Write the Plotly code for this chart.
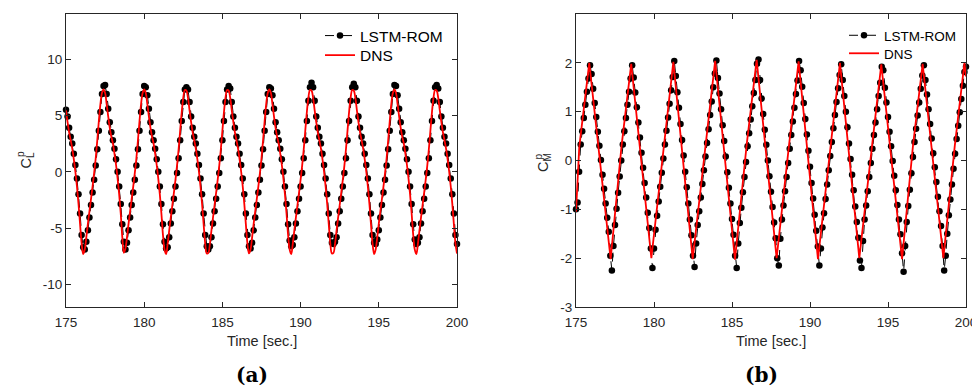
import plotly.graph_objects as go

# ---------------- data ----------------
t_start, t_step, n_pts = 175.0, 0.1, 251
time = [round(t_start + t_step * i, 1) for i in range(n_pts)]

# Panel (a): lift coefficient C_L^p, sampled every 0.1 s
cl_dns = [
    5.45, 4.4, 3.5, 2.8, 2.05, 1.1, 0.0, -1.3, -2.85, -4.65,
    -6.35, -7.3, -6.9, -5.8, -4.6, -3.5, -2.4, -1.3, -0.1, 1.2,
    2.8, 4.5, 6.0, 7.0, 7.3, 7.0, 6.0, 4.9, 3.9, 3.1,
    2.5, 1.6, 0.6, -0.6, -2.0, -3.7, -5.8, -7.2, -6.8, -5.8,
    -4.6, -3.5, -2.4, -1.3, -0.1, 1.2, 2.8, 4.5, 6.0, 7.0,
    7.3, 7.0, 6.0, 4.9, 3.9, 3.1, 2.5, 1.6, 0.6, -0.6,
    -2.0, -3.7, -5.6, -6.9, -7.3, -6.4, -5.2, -4.05, -2.95, -1.85,
    -0.7, 0.55, 2.0, 3.65, 5.3, 6.6, 7.25, 7.2, 6.55, 5.45,
    4.4, 3.5, 2.8, 2.05, 1.1, 0.0, -1.3, -2.85, -4.65, -6.35,
    -7.25, -7.2, -6.4, -5.2, -4.05, -2.95, -1.85, -0.7, 0.55, 2.0,
    3.65, 5.3, 6.6, 7.25, 7.2, 6.55, 5.45, 4.4, 3.5, 2.8,
    2.05, 1.1, 0.0, -1.3, -2.85, -4.65, -6.35, -7.25, -6.9, -5.8,
    -4.6, -3.5, -2.4, -1.3, -0.1, 1.2, 2.8, 4.5, 6.0, 7.0,
    7.3, 7.0, 6.0, 4.9, 3.9, 3.1, 2.5, 1.6, 0.6, -0.6,
    -2.0, -3.7, -5.6, -6.9, -7.3, -6.4, -5.2, -4.05, -2.95, -1.85,
    -0.7, 0.55, 2.0, 3.65, 5.3, 6.6, 7.25, 7.2, 6.55, 5.45,
    4.4, 3.5, 2.8, 2.05, 1.1, 0.0, -1.3, -2.85, -4.65, -6.35,
    -7.25, -7.2, -6.4, -5.2, -4.05, -2.95, -1.85, -0.7, 0.55, 2.0,
    3.65, 5.3, 6.6, 7.25, 7.2, 6.55, 5.45, 4.4, 3.5, 2.8,
    2.05, 1.1, 0.0, -1.3, -2.85, -4.65, -6.35, -7.3, -6.9, -5.8,
    -4.6, -3.5, -2.4, -1.3, -0.1, 1.2, 2.8, 4.5, 6.0, 7.0,
    7.3, 7.0, 6.0, 4.9, 3.9, 3.1, 2.5, 1.6, 0.6, -0.6,
    -2.0, -3.7, -5.6, -6.9, -7.3, -6.4, -5.2, -4.05, -2.95, -1.85,
    -0.7, 0.55, 2.0, 3.65, 5.3, 6.6, 7.25, 7.2, 6.55, 5.45,
    4.4, 3.5, 2.8, 2.05, 1.1, 0.0, -1.3, -2.85, -4.65, -6.35,
    -7.25,
]

cl_lstm = [
    5.5, 4.9, 3.9, 3.1, 2.5, 1.6, 0.6, -0.6, -2.0, -3.7,
    -5.6, -6.7, -6.9, -6.2, -5.2, -4.05, -2.95, -1.85, -0.7, 0.55,
    2.0, 3.65, 5.3, 6.9, 7.6, 7.7, 6.9, 5.6, 4.4, 3.5,
    2.8, 2.05, 1.1, 0.0, -1.3, -2.85, -4.65, -6.2, -6.9, -6.3,
    -5.2, -4.05, -2.95, -1.85, -0.7, 0.55, 2.0, 3.65, 5.3, 6.9,
    7.6, 7.5, 6.8, 5.6, 4.4, 3.5, 2.8, 2.05, 1.1, 0.0,
    -1.3, -2.85, -4.65, -6.2, -6.8, -6.7, -5.8, -4.6, -3.5, -2.4,
    -1.3, -0.1, 1.2, 2.8, 4.5, 6.2, 7.3, 7.5, 7.3, 6.2,
    4.9, 3.9, 3.1, 2.5, 1.6, 0.6, -0.6, -2.0, -3.7, -5.6,
    -6.6, -6.9, -6.6, -5.8, -4.6, -3.5, -2.4, -1.3, -0.1, 1.2,
    2.8, 4.5, 6.2, 7.3, 7.6, 7.4, 6.2, 4.9, 3.9, 3.1,
    2.5, 1.6, 0.6, -0.6, -2.0, -3.7, -5.6, -6.6, -6.8, -6.3,
    -5.2, -4.05, -2.95, -1.85, -0.7, 0.55, 2.0, 3.65, 5.3, 6.9,
    7.5, 7.4, 6.8, 5.6, 4.4, 3.5, 2.8, 2.05, 1.1, 0.0,
    -1.3, -2.85, -4.65, -6.1, -6.6, -6.5, -5.8, -4.6, -3.5, -2.4,
    -1.3, -0.1, 1.2, 2.8, 4.5, 6.3, 7.5, 7.9, 7.5, 6.3,
    4.9, 3.9, 3.1, 2.5, 1.6, 0.6, -0.6, -2.0, -3.7, -5.6,
    -6.3, -6.4, -6.2, -5.8, -4.6, -3.5, -2.4, -1.3, -0.1, 1.2,
    2.8, 4.5, 6.3, 7.5, 7.8, 7.5, 6.3, 4.9, 3.9, 3.1,
    2.5, 1.6, 0.6, -0.6, -2.0, -3.7, -5.6, -6.3, -6.4, -6.0,
    -5.2, -4.05, -2.95, -1.85, -0.7, 0.55, 2.0, 3.65, 5.3, 6.9,
    7.7, 7.6, 6.8, 5.6, 4.4, 3.5, 2.8, 2.05, 1.1, 0.0,
    -1.3, -2.85, -4.65, -6.0, -6.4, -6.3, -5.8, -4.6, -3.5, -2.4,
    -1.3, -0.1, 1.2, 2.8, 4.5, 6.3, 7.5, 7.7, 7.4, 6.2,
    4.9, 3.9, 3.1, 2.5, 1.6, 0.6, -0.6, -2.0, -3.7, -5.6,
    -6.4,
]

# Panel (b): moment coefficient C_M^p
# DNS read as break points (time, value) of the red curve
cm_dns_time = [175.0, 175.21, 175.85, 177.22, 177.92, 178.54, 179.83, 180.62, 181.24,
               182.48, 183.31, 183.92, 185.19, 185.94, 186.58, 187.86, 188.65, 189.27,
               190.51, 191.3, 191.92, 193.16, 193.95, 194.57, 195.9, 196.6, 197.22,
               198.55, 199.28, 199.9, 200.0]
cm_dns = [-1.05, 0.28, 2.0, -2.02, 0.3, 1.98, -2.0, 0.3, 2.02,
          -2.02, 0.3, 2.04, -2.03, 0.32, 2.06, -2.0, 0.3, 2.03,
          -2.02, 0.3, 2.0, -2.0, 0.3, 1.97, -2.02, 0.3, 1.98,
          -2.0, 0.3, 2.0, 1.72]

cm_lstm = [
    -1.0, -0.86, -0.23, 0.33, 0.60, 0.87, 1.14, 1.41, 1.68, 1.95,
    1.77, 1.47, 1.18, 0.89, 0.59, 0.30, 0.01, -0.29, -0.58, -0.88,
    -1.17, -1.46, -1.95, -2.25, -1.75, -1.32, -0.99, -0.66, -0.33, 0.00,
    0.33, 0.60, 0.87, 1.14, 1.41, 1.68, 1.95, 1.70, 1.39, 1.09,
    0.78, 0.47, 0.16, -0.15, -0.46, -0.76, -1.07, -1.38, -1.8, -2.2,
    -1.8, -1.42, -1.13, -0.84, -0.54, -0.25, 0.04, 0.33, 0.61, 0.88,
    1.16, 1.44, 1.71, 2.04, 1.73, 1.40, 1.08, 0.75, 0.42, 0.10,
    -0.23, -0.55, -0.88, -1.21, -1.53, -1.95, -2.18, -1.7, -1.32, -1.04,
    -0.76, -0.48, -0.20, 0.08, 0.36, 0.64, 0.93, 1.21, 1.50, 1.78,
    2.05, 1.69, 1.37, 1.05, 0.72, 0.40, 0.08, -0.24, -0.56, -0.88,
    -1.20, -1.52, -1.95, -2.2, -1.7, -1.28, -0.97, -0.65, -0.34, -0.03,
    0.29, 0.56, 0.84, 1.11, 1.38, 1.65, 1.98, 2.07, 1.65, 1.27,
    0.95, 0.63, 0.32, 0.00, -0.32, -0.64, -0.95, -1.27, -1.59, -2.0,
    -2.15, -1.6, -1.21, -0.92, -0.63, -0.34, -0.05, 0.24, 0.52, 0.80,
    1.08, 1.36, 1.64, 2.04, 1.85, 1.51, 1.18, 0.85, 0.53, 0.20,
    -0.13, -0.46, -0.78, -1.11, -1.44, -1.76, -2.15, -1.8, -1.37, -1.08,
    -0.79, -0.49, -0.20, 0.09, 0.38, 0.66, 0.93, 1.20, 1.48, 1.75,
    1.97, 1.65, 1.32, 1.00, 0.68, 0.35, 0.03, -0.29, -0.61, -0.94,
    -1.26, -1.58, -2.05, -2.2, -1.65, -1.21, -0.92, -0.63, -0.34, -0.05,
    0.24, 0.52, 0.78, 1.05, 1.32, 1.59, 1.92, 1.85, 1.49, 1.19,
    0.89, 0.59, 0.29, -0.01, -0.31, -0.61, -0.91, -1.21, -1.51, -1.9,
    -2.28, -1.75, -1.26, -0.93, -0.60, -0.26, 0.07, 0.38, 0.65, 0.92,
    1.19, 1.47, 1.74, 1.95, 1.65, 1.35, 1.05, 0.75, 0.45, 0.15,
    -0.14, -0.44, -0.74, -1.04, -1.34, -1.75, -2.25, -1.95, -1.5, -1.12,
    -0.80, -0.49, -0.17, 0.14, 0.44, 0.71, 0.99, 1.26, 1.53, 1.81,
    1.92,
]

x_ticks = [175, 180, 185, 190, 195, 200]
cl_ticks = [-10, -5, 0, 5, 10]
cm_ticks = [-3, -2, -1, 0, 1, 2, 3]

# ---------------- figure ----------------
# The page body has an 8 px margin, so the figure is drawn 8 px in from the
# window corner; size it so that it fills the 980x391 window exactly.
OFF = 8
W, H = 980 - OFF, 391 - OFF
AX = "#262626"
FONT = "Liberation Sans, Arial, Helvetica, sans-serif"

fig = go.Figure()

lstm_line = dict(color="black", width=1, dash="dash")
lstm_marker = dict(color="black", size=6.5)
dns_line = dict(color="#ff0000", width=1.8)

fig.add_trace(go.Scatter(x=time, y=cl_lstm, xaxis="x", yaxis="y", legend="legend",
                         mode="lines+markers", name="LSTM-ROM", line=lstm_line,
                         marker=lstm_marker, cliponaxis=False))
fig.add_trace(go.Scatter(x=time, y=cl_dns, xaxis="x", yaxis="y", legend="legend2",
                         mode="lines", name="DNS", line=dns_line, line_shape="spline"))
fig.add_trace(go.Scatter(x=time, y=cm_lstm, xaxis="x2", yaxis="y2", legend="legend3",
                         mode="lines+markers", name="LSTM-ROM", line=lstm_line,
                         marker=lstm_marker, cliponaxis=False))
fig.add_trace(go.Scatter(x=cm_dns_time, y=cm_dns, xaxis="x2", yaxis="y2", legend="legend4",
                         mode="lines", name="DNS", line=dns_line))


def px(v):  # window pixel -> paper fraction
    return (v - OFF) / W


def py(v):
    return 1 - (v - OFF) / H


axis_common = dict(showline=True, linecolor=AX, linewidth=1, mirror="allticks",
                   ticks="inside", ticklen=5, tickcolor=AX, showgrid=False, zeroline=False,
                   automargin=False, tickfont=dict(family=FONT, size=13.5, color=AX))


def tick_text(vals):
    return [str(v) for v in vals]


def leg(x, y, size):
    return dict(x=px(x), y=py(y), xanchor="left", yanchor="top",
                bgcolor="rgba(0,0,0,0)", font=dict(family=FONT, size=size, color="black"),
                tracegroupgap=0, itemwidth=30)


y_dom = [py(307), py(14)]
fig.update_layout(
    width=W, height=H,
    margin=dict(l=0, r=0, t=0, b=0, autoexpand=False),
    paper_bgcolor="white", plot_bgcolor="white",
    font=dict(family=FONT, color=AX),
    xaxis=dict(domain=[px(66), px(457)], range=[175, 200], anchor="y", ticklabelstandoff=3,
               tickvals=x_ticks, ticktext=tick_text(x_ticks), **axis_common),
    yaxis=dict(domain=y_dom, range=[-12, 14], anchor="x",
               tickvals=cl_ticks, ticktext=tick_text(cl_ticks), **axis_common),
    xaxis2=dict(domain=[px(576), px(966)], range=[175, 200], anchor="y2", ticklabelstandoff=3,
                tickvals=x_ticks, ticktext=tick_text(x_ticks), **axis_common),
    yaxis2=dict(domain=y_dom, range=[-3, 3], anchor="x2",
                tickvals=cm_ticks, ticktext=tick_text(cm_ticks), **axis_common),
    legend=leg(320, 19, 15.5),
    legend2=leg(320, 38.5, 15.5),
    legend3=leg(844, 20, 13.5),
    legend4=leg(844, 38, 13.5),
    showlegend=True,
)

ann = []
# x-axis titles
for cx in (261.5, 771):
    ann.append(dict(x=px(cx), y=py(341), xref="paper", yref="paper", text="Time [sec.]",
                    showarrow=False, xanchor="center", yanchor="middle",
                    font=dict(family=FONT, size=14.5, color=AX)))
# y-axis titles (C with stacked super/subscript)
ann.append(dict(x=px(26), y=py(160.5), xref="paper", yref="paper", text="C<sub>L</sub>",
                textangle=-90, showarrow=False, xanchor="center", yanchor="middle",
                font=dict(family=FONT, size=14.5, color=AX)))
ann.append(dict(x=px(20.5), y=py(154.5), xref="paper", yref="paper", text="p",
                textangle=-90, showarrow=False, xanchor="center", yanchor="middle",
                font=dict(family=FONT, size=10, color=AX)))
ann.append(dict(x=px(544), y=py(163), xref="paper", yref="paper", text="C<sub>M</sub>",
                textangle=-90, showarrow=False, xanchor="center", yanchor="middle",
                font=dict(family=FONT, size=14.5, color=AX)))
ann.append(dict(x=px(538), y=py(156.5), xref="paper", yref="paper", text="p",
                textangle=-90, showarrow=False, xanchor="center", yanchor="middle",
                font=dict(family=FONT, size=10, color=AX)))
# panel captions
for cx, lab in ((252, "(a)"), (761, "(b)")):
    ann.append(dict(x=px(cx), y=py(375), xref="paper", yref="paper", text="<b>" + lab + "</b>",
                    showarrow=False, xanchor="center", yanchor="middle",
                    font=dict(family="DejaVu Serif, Liberation Serif, serif", size=20, color="black")))
fig.update_layout(annotations=ann)

fig.write_html("out.html")
